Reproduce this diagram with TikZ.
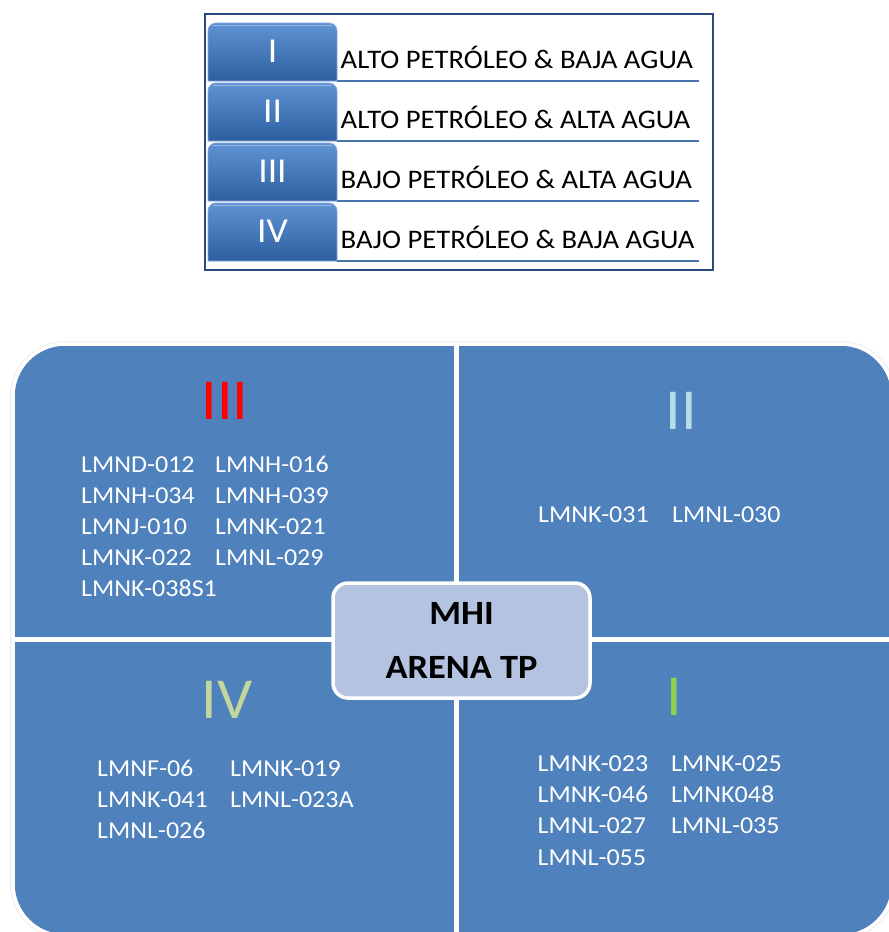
\documentclass[tikz,border=0pt]{standalone}
\usepackage{fontspec}
\setmainfont{Carlito}[FakeStretch=1.07]
\definecolor{quad}{HTML}{4F81BD}
\definecolor{hubfill}{HTML}{B4C3DF}
\definecolor{frame}{HTML}{2A4A7F}
\definecolor{rulecol}{HTML}{4A74B0}
\definecolor{tabtop}{HTML}{5F93D4}
\definecolor{tabbot}{HTML}{2D5F9F}
\definecolor{tabedge}{HTML}{7FA6DC}
\definecolor{numIII}{HTML}{FF0000}
\definecolor{numII}{HTML}{B7DEE8}
\definecolor{numIV}{HTML}{C3D69B}
\definecolor{numI}{HTML}{92D050}
\tikzset{
  tabshape/.style={top color=tabtop, bottom color=tabbot, draw=tabedge, line width=0.8},
  tabnum/.style={text=white, inner sep=0, font=\fontsize{35}{37}\selectfont},
  legtext/.style={anchor=base west, inner sep=0, text=black, font=\fontsize{26.8}{28}\selectfont},
  legrule/.style={draw=rulecol, line width=1.5},
  hub/.style={rounded corners=15, fill=hubfill, draw=white, line width=3.5,
    minimum width=257, minimum height=115, align=center, inner sep=0,
    font=\bfseries\fontsize{34}{54}\selectfont},
  bignum/.style={inner sep=0, font=\fontsize{58}{60}\selectfont},
  well/.style={anchor=base west, inner sep=0, text=white, font=\fontsize{24.3}{26}\selectfont}
}
\begin{document}
\begin{tikzpicture}[x=1pt,y=-1pt]
\useasboundingbox (0,0) rectangle (889,932);
\clip (0,0) rectangle (889,932);

% ---------- legend ----------
\draw[draw=frame, line width=2] (205,14) rectangle (713,270);
\foreach \k/\n/\txt in {0/I/ALTO PETRÓLEO \& BAJA AGUA,
                        1/II/ALTO PETRÓLEO \& ALTA AGUA,
                        2/III/BAJO PETRÓLEO \& ALTA AGUA,
                        3/IV/BAJO PETRÓLEO \& BAJA AGUA}{
  \path[tabshape] (208,81+60*\k) -- (208,31+60*\k)
     .. controls (208,26.6+60*\k) and (211.6,23+60*\k) .. (216,23+60*\k)
     -- (329,23+60*\k)
     .. controls (333.4,23+60*\k) and (337,26.6+60*\k) .. (337,31+60*\k)
     -- (337,81+60*\k) -- cycle;
  \draw[white, opacity=0.35, line width=1.5] (213,25.5+60*\k) -- (332,25.5+60*\k);
  \node[tabnum] (tab\n) at (272.5,51.5+60*\k) {\n};
  \draw[legrule] (337,81+60*\k) -- (699,81+60*\k);
  \node[legtext] (leg\n) at (340.5,68.3+60*\k) {\txt};
}

% ---------- quadrant panel ----------
\draw[gray!12, line width=6, rounded corners=52] (13,344) rectangle (893,936);
\draw[fill=quad, draw=white, line width=3.5, rounded corners=52] (13,344) rectangle (893,936);
\draw[white, line width=5] (456.5,344) -- (456.5,936);
\draw[white, line width=5] (13,639) -- (893,639);

% quadrant numerals
\node[bignum, text=numIII] (nIII) at (225,401) {III};
\node[bignum, text=numII]  (nII)  at (681.5,411) {II};
\node[bignum, text=numIV]  (nIV)  at (227,700) {IV};
\node[bignum, text=numI]   (nI)   at (674,696.5) {I};

% wells, quadrant III
\node[well] (w3a) at (81,472) {LMND-012};
\node[well] (w3b) at (215,472) {LMNH-016};
\node[well] (w3c) at (81,503) {LMNH-034};
\node[well] (w3d) at (215,503) {LMNH-039};
\node[well] (w3e) at (81,534) {LMNJ-010};
\node[well] (w3f) at (215,534) {LMNK-021};
\node[well] (w3g) at (81,565) {LMNK-022};
\node[well] (w3h) at (215,565) {LMNL-029};
\node[well] (w3i) at (81,596) {LMNK-038S1};

% wells, quadrant II
\node[well] (w2a) at (538,522) {LMNK-031};
\node[well] (w2b) at (672,522) {LMNL-030};

% wells, quadrant IV
\node[well] (w4a) at (97,776) {LMNF-06};
\node[well] (w4b) at (230,776) {LMNK-019};
\node[well] (w4c) at (97,807) {LMNK-041};
\node[well] (w4d) at (230,807) {LMNL-023A};
\node[well] (w4e) at (97,838) {LMNL-026};

% wells, quadrant I
\node[well] (w1a) at (537.5,771) {LMNK-023};
\node[well] (w1b) at (671,771) {LMNK-025};
\node[well] (w1c) at (537.5,802) {LMNK-046};
\node[well] (w1d) at (671,802) {LMNK048};
\node[well] (w1e) at (537.5,833) {LMNL-027};
\node[well] (w1f) at (671,833) {LMNL-035};
\node[well] (w1g) at (537.5,865) {LMNL-055};

% central box
\node[hub] (hub) at (461.5,640.5) {MHI\\ARENA TP};
\end{tikzpicture}
\end{document}
